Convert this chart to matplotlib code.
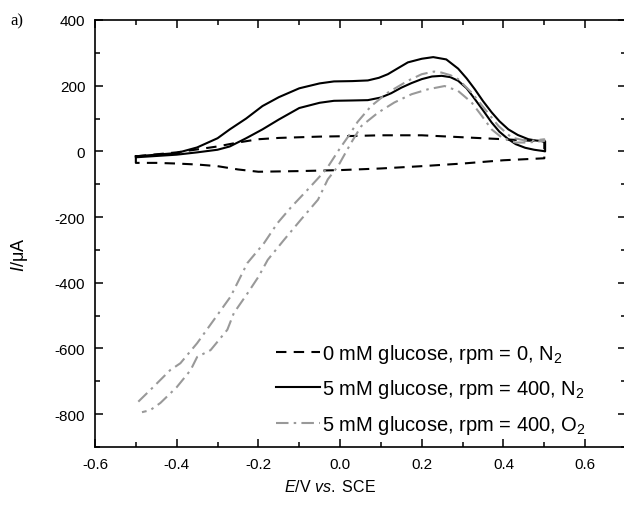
import matplotlib
matplotlib.use("Agg")
import matplotlib.pyplot as plt
from matplotlib.ticker import MultipleLocator

plt.rcParams['font.family'] = ['Liberation Sans', 'DejaVu Sans']
plt.rcParams['mathtext.fontset'] = 'custom'
plt.rcParams['mathtext.rm'] = 'Liberation Sans'
plt.rcParams['mathtext.it'] = 'Liberation Sans:italic'
plt.rcParams['axes.unicode_minus'] = False

# 0 mM glucose, rpm = 0, N2 (closed loop: upper branch forward, lower branch back)
E_blank = [-0.5, -0.45, -0.4, -0.35, -0.3, -0.25, -0.2, -0.15, -0.1, -0.05, 0.0, 0.1, 0.2, 0.3, 0.4, 0.5,
           0.5, 0.4, 0.3, 0.2, 0.1, 0.0, -0.1, -0.15, -0.2, -0.25, -0.3, -0.35, -0.4, -0.45, -0.5, -0.5]
I_blank = [-15, -9, -3, 6, 15, 27, 37, 41, 43, 45, 46, 49, 49, 43, 37, 30,
           -21, -27, -37, -45, -52, -57, -60, -61, -62, -55, -45, -40, -37, -35, -35, -15]

# 5 mM glucose, rpm = 400, N2
E_glu_n2 = [-0.5, -0.45, -0.4, -0.35, -0.3, -0.27, -0.23, -0.19, -0.15, -0.1, -0.05, -0.015, 0.03, 0.068,
            0.095, 0.117, 0.14, 0.166, 0.2, 0.228, 0.26, 0.289, 0.31, 0.33, 0.35, 0.371, 0.39, 0.412, 0.435,
            0.461, 0.48, 0.502,
            0.502, 0.498, 0.475, 0.453, 0.43, 0.412, 0.39, 0.371, 0.35, 0.33, 0.31, 0.289, 0.27, 0.249, 0.225,
            0.2, 0.175, 0.15, 0.125, 0.1, 0.068, 0.03, -0.015, -0.05, -0.1, -0.15, -0.19, -0.23, -0.27, -0.3,
            -0.35, -0.4, -0.45, -0.5, -0.5]
I_glu_n2 = [-15, -10, -5, 12, 40, 67, 100, 138, 165, 192, 207, 213, 214, 216,
            224, 235, 252, 271, 282, 287, 280, 252, 222, 189, 153, 119, 92, 67, 50,
            37, 33, 31,
            0, 1, 5, 11, 22, 37, 60, 88, 125, 159, 192, 215, 226, 230, 228,
            220, 208, 194, 177, 164, 156, 155, 154, 148, 132, 97, 67, 40, 15, 5,
            -3, -10, -14, -18, -15]

# 5 mM glucose, rpm = 400, O2
E_glu_o2 = [-0.494, -0.457, -0.416, -0.391, -0.35, -0.309, -0.268, -0.227, -0.186, -0.153, -0.12, -0.079,
            -0.034, 0.0, 0.022, 0.043, 0.076, 0.117, 0.166, 0.2, 0.23, 0.248, 0.27, 0.289, 0.322, 0.355,
            0.388, 0.42, 0.461, 0.5,
            0.5, 0.46, 0.429, 0.396, 0.371, 0.347, 0.322, 0.289, 0.256, 0.215, 0.175, 0.133, 0.093, 0.052,
            0.027, -0.005, -0.03, -0.054, -0.096, -0.137, -0.177, -0.2, -0.226, -0.26, -0.276, -0.317,
            -0.35, -0.366, -0.4, -0.44, -0.465, -0.485]
I_glu_o2 = [-762, -717, -666, -645, -584, -513, -442, -340, -279, -218, -170, -116,
            -55, 10, 49, 90, 138, 179, 215, 235, 243, 240, 232, 220, 179, 128,
            77, 42, 31, 37,
            32, 27, 27, 42, 67, 108, 149, 184, 199, 189, 174, 149, 118, 77,
            26, -45, -85, -147, -208, -269, -330, -382, -431, -492, -543, -605,
            -626, -666, -718, -766, -788, -794]

legend_labels = ["0 mM glucose, rpm = 0, N$_2$",
                 "5 mM glucose, rpm = 400, N$_2$",
                 "5 mM glucose, rpm = 400, O$_2$"]

fig = plt.figure(figsize=(6.24, 5.06), dpi=100)
ax = fig.add_axes([95/624, 1 - 448/506, 531/624, 427/506])

ax.plot(E_blank, I_blank, color='black', lw=1.5, linestyle=(0, (5, 3.5)), label=legend_labels[0])
ax.plot(E_glu_n2, I_glu_n2, color='black', lw=1.5, linestyle='-', label=legend_labels[1])
ax.plot(E_glu_o2, I_glu_o2, color='#999999', lw=1.5, linestyle=(0, (6, 2.5, 1.2, 2.5)), label=legend_labels[2])

ax.set_xlim(-0.6, 0.7)
ax.set_ylim(-900, 400)
ax.xaxis.set_major_locator(MultipleLocator(0.2))
ax.xaxis.set_minor_locator(MultipleLocator(0.1))
ax.yaxis.set_major_locator(MultipleLocator(200))
ax.yaxis.set_minor_locator(MultipleLocator(100))
ax.xaxis.set_major_formatter(matplotlib.ticker.FuncFormatter(lambda v, p: f"{v:.1f}"))
ax.yaxis.set_major_formatter(matplotlib.ticker.FuncFormatter(lambda v, p: f"{int(round(v))}"))
ax.tick_params(which='both', direction='in', top=True, right=True, labelsize=11, width=1.1, pad=7)
ax.tick_params(which='major', length=6)
ax.tick_params(which='minor', length=3.5)
for s in ax.spines.values():
    s.set_linewidth(1.2)

fig.text(330/624, 1 - 487/506, "$E$/V $vs.$ SCE", ha='center', va='center', fontsize=11.5)
fig.text(20/624, 1 - 255/506, "$I$/\u03bcA", ha='center', va='center', rotation=90, fontsize=13)
fig.text(10/624, 1 - 21/506, "a)", ha='left', va='center', fontsize=12, family='Liberation Serif')

ax.legend(loc='upper left', bbox_to_anchor=(276/624, 1 - 343/506), bbox_transform=fig.transFigure,
          frameon=False, fontsize=14.5, handlelength=2.2, handletextpad=0.1, labelspacing=0.62,
          borderpad=0, borderaxespad=0)

fig.savefig("out.png", dpi=100)
